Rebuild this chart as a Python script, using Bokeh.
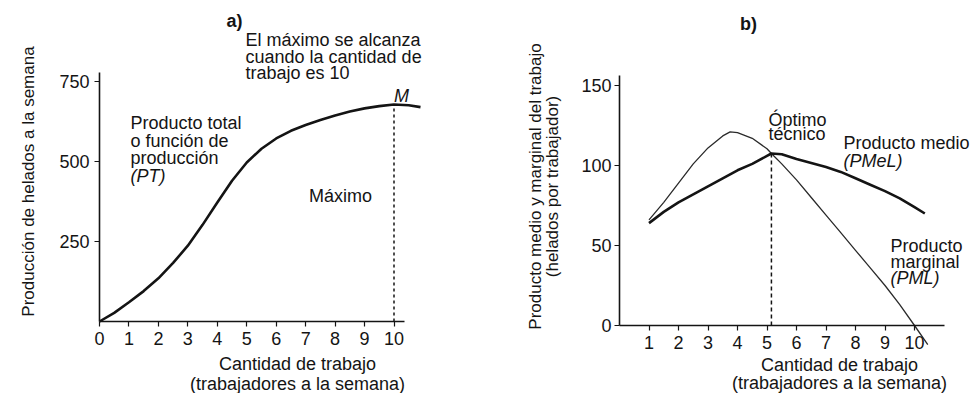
from bokeh.plotting import figure
from bokeh.layouts import row
from bokeh.models import Range1d, Label, FixedTicker
from bokeh.embed import file_html
from bokeh.resources import INLINE
import math

# ---------------- data ----------------
# Panel a: total product (PT)
pt_labor = [0, 0.5, 1, 1.5, 2, 2.5, 3, 3.5, 4, 4.5, 5, 5.5, 6, 6.5, 7, 7.5, 8, 8.5, 9, 9.5, 10, 10.5, 10.9]
pt_output = [0, 27, 60, 95, 135, 183, 237, 302, 372, 440, 497, 540, 572, 596, 614, 630, 644, 656, 666, 673, 678, 676, 670]
max_labor = 10
max_output = 678

# Panel b: marginal product (PML) and average product (PMeL)
pml_labor = [1, 1.5, 2, 2.5, 3, 3.5, 3.75, 4, 4.5, 5, 5.15, 5.5, 6, 6.5, 7, 7.5, 8, 8.5, 9, 9.5, 10, 10.45]
pml_values = [66, 77, 89, 101, 111, 118.5, 121, 120.5, 117, 110.5, 107.5, 101, 91, 80, 69, 58, 47, 36, 25, 13, 0, -12]
pmel_labor = [1, 1.5, 2, 2.5, 3, 3.5, 4, 4.5, 5, 5.15, 5.5, 6, 6.5, 7, 7.5, 8, 8.5, 9, 9.5, 10, 10.35]
pmel_values = [64, 71, 77, 82, 87, 92, 97, 101, 106, 107.5, 107, 104, 101.5, 99, 96, 92, 88, 84, 79.5, 74, 70]
optimo_labor = 5.15
optimo_value = 107.5

a_xticks = [0, 1, 2, 3, 4, 5, 6, 7, 8, 9, 10]
a_yticks = [250, 500, 750]
b_xticks = [1, 2, 3, 4, 5, 6, 7, 8, 9, 10]
b_yticks = [0, 50, 100, 150]

# ---------------- styling ----------------
FONT = "Liberation Sans"
INK = "#141414"
FS = "18px"        # horizontal texts
FS_ROT = "17px"    # rotated axis titles
H = 393


def style_axes(p):
    for ax in list(p.xaxis) + list(p.yaxis):
        ax.axis_line_width = 1.6
        ax.axis_line_color = INK
        ax.major_tick_line_color = INK
        ax.major_tick_line_width = 1.2
        ax.major_tick_in = 0
        ax.major_tick_out = 5
        ax.minor_tick_line_color = None
        ax.major_label_text_font = FONT
        ax.major_label_text_font_size = FS
        ax.major_label_text_color = INK
    p.xgrid.visible = False
    p.ygrid.visible = False
    p.outline_line_color = None
    p.background_fill_color = "white"
    p.border_fill_color = "white"


def add_text(p, x, y, text, align="left", style="normal", angle=0.0, size=FS):
    p.add_layout(Label(x=x, y=y, text=text, text_align=align, text_baseline="middle",
                       text_font=FONT, text_font_size=size, text_font_style=style,
                       text_color=INK, angle=angle))


# ---------------- panel a (canvas x 0..495) ----------------
A_W = 495
A_PX = 29.45      # px per worker
A_PY = 0.32       # px per unit of output
A_LEFT, A_ZERO = 99, 321   # canvas position of the origin

pa = figure(frame_width=A_W, frame_height=H,
            x_range=Range1d(-A_LEFT / A_PX, (A_W - A_LEFT) / A_PX),
            y_range=Range1d((A_ZERO - H) / A_PY, A_ZERO / A_PY),
            min_border=0, output_backend="svg", toolbar_location=None)
style_axes(pa)
pa.xaxis.fixed_location = 0
pa.yaxis.fixed_location = 0
pa.xaxis.ticker = FixedTicker(ticks=a_xticks)
pa.yaxis.ticker = FixedTicker(ticks=a_yticks)
pa.xaxis.bounds = (0, 10.35)
pa.yaxis.bounds = (0, 778)
pa.xaxis.major_label_standoff = 5
pa.yaxis.major_label_standoff = 5

pa.line(pt_labor, pt_output, line_width=2.6, line_color=INK, line_join="round")
pa.line([max_labor, max_labor], [0, max_output], line_width=1.5, line_color=INK, line_dash="3 3")


def ax_(px):
    return (px - A_LEFT) / A_PX


def ay_(py):
    return (A_ZERO - py) / A_PY


add_text(pa, ax_(234), ay_(20), "a)", align="center", style="bold")
add_text(pa, ax_(245), ay_(39), "El máximo se alcanza")
add_text(pa, ax_(245), ay_(56), "cuando la cantidad de")
add_text(pa, ax_(245), ay_(72), "trabajo es 10")
add_text(pa, ax_(401), ay_(95), "M", align="center", style="italic")
add_text(pa, ax_(130), ay_(122), "Producto total")
add_text(pa, ax_(130), ay_(140), "o función de")
add_text(pa, ax_(130), ay_(157), "producción")
add_text(pa, ax_(130), ay_(175), "(PT)", style="italic")
add_text(pa, ax_(340), ay_(195), "Máximo", align="center")
add_text(pa, ax_(297), ay_(363), "Cantidad de trabajo", align="center")
add_text(pa, ax_(297), ay_(383), "(trabajadores a la semana)", align="center")
add_text(pa, ax_(28), ay_(181), "Producción de helados a la semana", align="center",
         angle=math.pi / 2, size=FS_ROT)

# ---------------- panel b (canvas x 495..973) ----------------
B_W = 478
B_PX = 29.5
B_PY = 1.6
B_LEFT, B_ZERO = 619 - 495, 325   # origin inside panel b's canvas

pb = figure(frame_width=B_W, frame_height=H,
            x_range=Range1d(-B_LEFT / B_PX, (B_W - B_LEFT) / B_PX),
            y_range=Range1d((B_ZERO - H) / B_PY, B_ZERO / B_PY),
            min_border=0, output_backend="svg", toolbar_location=None)
style_axes(pb)
pb.xaxis.fixed_location = 0
pb.yaxis.fixed_location = 0
pb.xaxis.ticker = FixedTicker(ticks=b_xticks)
pb.yaxis.ticker = FixedTicker(ticks=b_yticks)
pb.xaxis.bounds = (0, 11.0)
pb.yaxis.bounds = (0, 156)
pb.xaxis.major_label_standoff = 5
pb.yaxis.major_label_standoff = 3

pb.line(pml_labor, pml_values, line_width=1.3, line_color="#2a2a2a", line_join="round")
pb.line(pmel_labor, pmel_values, line_width=2.6, line_color=INK, line_join="round")
pb.line([optimo_labor, optimo_labor], [0, optimo_value], line_width=1.5, line_color=INK, line_dash="4 3")


def bx_(px):
    return (px - 495 - B_LEFT) / B_PX


def by_(py):
    return (B_ZERO - py) / B_PY


add_text(pb, bx_(748), by_(23), "b)", align="center", style="bold")
add_text(pb, bx_(768), by_(119), "Óptimo")
add_text(pb, bx_(768), by_(133), "técnico")
add_text(pb, bx_(843), by_(142), "Producto medio")
add_text(pb, bx_(843), by_(160), "(PMeL)", style="italic")
add_text(pb, bx_(890), by_(245), "Producto")
add_text(pb, bx_(890), by_(261), "marginal")
add_text(pb, bx_(890), by_(277), "(PML)", style="italic")
add_text(pb, bx_(839), by_(364), "Cantidad de trabajo", align="center")
add_text(pb, bx_(839), by_(382), "(trabajadores a la semana)", align="center")
add_text(pb, bx_(535), by_(186), "Producto medio y marginal del trabajo", align="center",
         angle=math.pi / 2, size=FS_ROT)
add_text(pb, bx_(552), by_(186), "(helados por trabajador)", align="center",
         angle=math.pi / 2, size=FS_ROT)

layout = row(pa, pb)
open("out.html", "w").write(file_html(layout, INLINE))
